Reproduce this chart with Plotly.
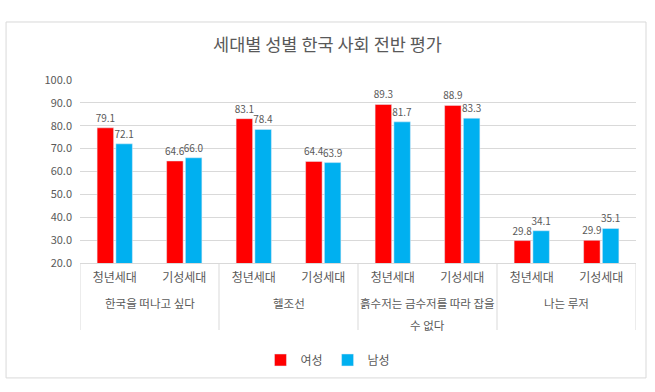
import plotly.graph_objects as go

groups = ["한국을 떠나고 싶다", "한국을 떠나고 싶다", "헬조선", "헬조선",
          "흙수저는 금수저를 따라 잡을<br>수 없다", "흙수저는 금수저를 따라 잡을<br>수 없다",
          "나는 루저", "나는 루저"]
subs = ["청년세대", "기성세대"] * 4
female = [79.1, 64.6, 83.1, 64.4, 89.3, 88.9, 29.8, 29.9]
male = [72.1, 66.0, 78.4, 63.9, 81.7, 83.3, 34.1, 35.1]
series_names = ["여성", "남성"]
title_text = "세대별 성별 한국 사회 전반 평가"

FONT = "Noto Sans CJK KR"
GRAY = "#595959"
LINE = "#D9D9D9"

idx = list(range(len(subs)))

fig = go.Figure()
for vals, name, color in [(female, series_names[0], "#FF0000"), (male, series_names[1], "#00B0F0")]:
    fig.add_trace(go.Bar(x=idx, y=vals, name=name, marker_color=color,
                         texttemplate="%{y:.1f}", textposition="outside",
                         constraintext="none",
                         textfont=dict(size=10, color=GRAY, family=FONT), cliponaxis=False))

# plot area: y from 80 px (top) to 263 px (bottom), height 183
PH = 183.0
def py(px_below_axis):
    return -px_below_axis / PH

group_order = []
for g in groups:
    if g not in group_order:
        group_order.append(g)
annotations = []
shapes = []
bounds = []
for g in group_order:
    members = [i for i, gg in enumerate(groups) if gg == g]
    center = sum(members) / len(members)
    bounds.append(min(members) - 0.5)
    for k, line in enumerate(g.split("<br>")):
        annotations.append(dict(x=center, xref="x", y=py(40 + 22 * k), yref="paper",
                                text=line, showarrow=False, xanchor="center", yanchor="middle",
                                font=dict(size=11.5, color=GRAY, family=FONT)))
bounds.append(len(groups) - 0.5)
for b in bounds:
    shapes.append(dict(type="line", xref="x", yref="paper", x0=b, x1=b, y0=0, y1=py(67),
                       line=dict(color=LINE, width=1)))
shapes.append(dict(type="rect", xref="paper", yref="paper",
                   x0=-0.133, x1=1.018, y0=-0.628, y1=1.317,
                   line=dict(color=LINE, width=1), fillcolor="rgba(0,0,0,0)", layer="below"))

fig.update_layout(
    width=655, height=392,
    margin=dict(l=80, r=19, t=80, b=129, autoexpand=False),
    paper_bgcolor="white", plot_bgcolor="white",
    font=dict(family=FONT, color=GRAY, size=11),
    title=dict(text=title_text, x=0.5, xref="container", xanchor="center",
               y=1 - 45 / 392, yref="container", yanchor="middle",
               font=dict(size=17.5, color=GRAY, family=FONT)),
    barmode="group", bargap=0.46, bargroupgap=0.12,
    legend=dict(orientation="h", x=0.446, xanchor="center", y=-0.53, yanchor="middle",
                font=dict(size=12, color=GRAY), itemwidth=30, traceorder="normal"),
    showlegend=True,
    annotations=annotations, shapes=shapes,
)
fig.update_yaxes(range=[20, 100], dtick=10, tickformat=".1f", showgrid=True,
                 gridcolor=LINE, zeroline=False, showline=False,
                 tickfont=dict(size=11, color=GRAY), ticks="", ticklabelstandoff=7)
fig.update_xaxes(range=[-0.5, len(subs) - 0.5], tickvals=idx, ticktext=subs,
                 showline=True, linecolor=LINE, showgrid=False, zeroline=False,
                 tickfont=dict(size=12, color=GRAY), ticks="", ticklabelstandoff=4)
fig.write_html("out.html", config={"displayModeBar": False},
               post_script="document.body.style.margin='0';document.body.style.overflow='hidden';")
